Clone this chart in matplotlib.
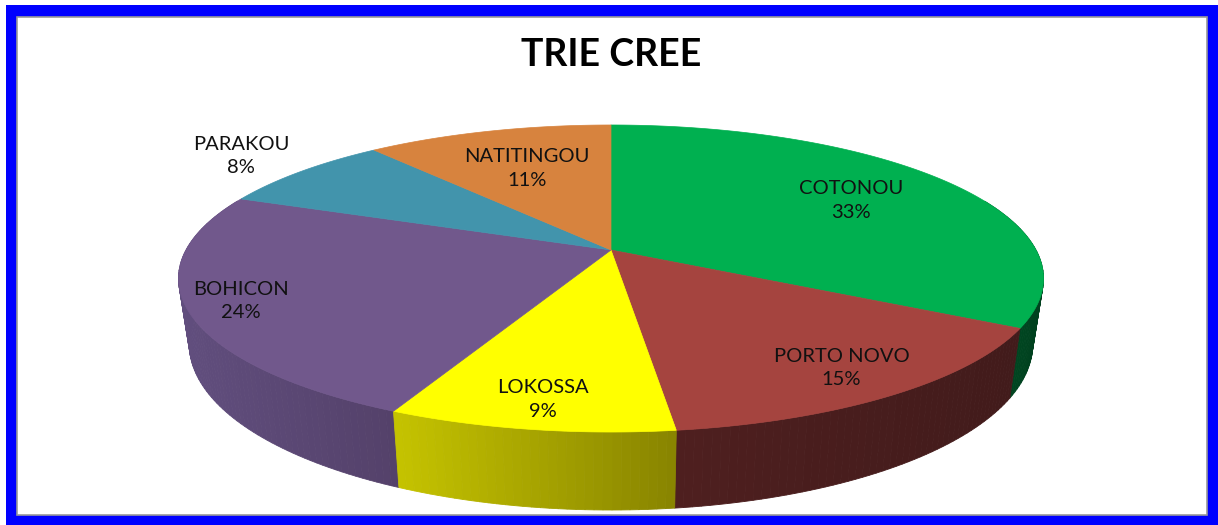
# coding=utf-8
import numpy as np
import matplotlib.pyplot as plt
from matplotlib.patches import Polygon, Rectangle

'''camembert 3D facon Excel'''

villes = ['COTONOU', 'PORTO NOVO', 'LOKOSSA', 'BOHICON', 'PARAKOU', 'NATITINGOU']
parts = [33, 15, 9, 24, 8, 11]
titre = 'TRIE CREE'

# couleurs du dessus et des cotes (clair a gauche, sombre a droite)
couleurs = ['#00B050', '#A5443F', '#FFFF00', '#71588C', '#4294AC', '#D7833E']
cote_g = ['#004E25', '#4E1F1F', '#C4C200', '#614E7E', '#2E6A7C', '#9A5D2C']
cote_d = ['#00401E', '#421B1B', '#888400', '#54416A', '#275B6B', '#844F25']
# distance du centre pour les etiquettes (en fraction du rayon)
pos_etiq = [0.70, 0.84, 0.86, 0.88, 1.22, 0.65]

# geometrie de la vue en perspective (pixels)
CX, CY, RX = 611, 250, 425
A, C = -101.8, 0.1857
EP = 63.5      # epaisseur
SHR = 0.975    # retrecissement du bas


def proj(u, v):
    den = 1 + C * v
    return CX + RX * u / den, (CY + A * v) / den


def proj_bas(u, v):
    x, y = proj(u, v)
    return CX + (x - CX) * SHR, y + EP / (1 + C * v)


def hex2rgb(h):
    return np.array([int(h[i:i + 2], 16) for i in (1, 3, 5)]) / 255.0


fig = plt.figure(figsize=(12.18, 5.25), dpi=100)
ax = fig.add_axes([0, 0, 1, 1])
ax.set_xlim(0, 1218)
ax.set_ylim(525, 0)
ax.axis('off')

# cadre bleu
ax.add_patch(Rectangle((6, 5), 1212, 520, facecolor='#0000FF', edgecolor='none', zorder=0))
ax.add_patch(Rectangle((17, 17), 1190, 498, facecolor='white', edgecolor='#999999', lw=1.2, zorder=1))

total = float(sum(parts))
cum = np.concatenate([[0], np.cumsum(parts)]) / total
angles = 90 - 360 * cum

# cotes
segs = []
for i in range(len(parts)):
    t0, t1 = angles[i], angles[i + 1]
    n = max(2, int(abs(t1 - t0))) + 1
    th = np.radians(np.linspace(t0, t1, n))
    front = [k for k in range(n - 1) if np.sin((th[k] + th[k + 1]) / 2) < 0.35]
    if not front:
        continue
    xs = [proj(np.cos(th[k]), np.sin(th[k]))[0] for k in front]
    xmin, xmax = min(xs), max(xs) + 1e-6
    cg, cd = hex2rgb(cote_g[i]), hex2rgb(cote_d[i])
    for k in front:
        a, b = th[k], th[k + 1]
        p1 = proj(np.cos(a), np.sin(a))
        p2 = proj(np.cos(b), np.sin(b))
        q2 = proj_bas(np.cos(b), np.sin(b))
        q1 = proj_bas(np.cos(a), np.sin(a))
        xm = (p1[0] + p2[0]) / 2
        f = np.clip((xm - xmin) / (xmax - xmin), 0, 1)
        col = cg * (1 - f) + cd * f
        segs.append(((p1[1] + p2[1]) / 2, [p1, p2, q2, q1], col))

segs.sort(key=lambda s: s[0])
for ym, pts, col in segs:
    ax.add_patch(Polygon(pts, closed=True, facecolor=col, edgecolor=col, lw=0.6, zorder=2))

# dessus
for i in range(len(parts)):
    t0, t1 = angles[i], angles[i + 1]
    n = max(2, int(abs(t1 - t0) * 2)) + 1
    th = np.radians(np.linspace(t0, t1, n))
    pts = [proj(0, 0)] + [proj(np.cos(t), np.sin(t)) for t in th]
    ax.add_patch(Polygon(pts, closed=True, facecolor=couleurs[i], edgecolor=couleurs[i],
                         lw=0.5, zorder=3))

# etiquettes
for i in range(len(parts)):
    mid = np.radians((angles[i] + angles[i + 1]) / 2)
    k = pos_etiq[i]
    x, y = proj(k * np.cos(mid), k * np.sin(mid))
    ax.text(x, y, '%s\n%d%%' % (villes[i], round(100 * parts[i] / total)),
            ha='center', va='center', fontsize=14.5, family='Lato',
            color='#111111', linespacing=1.45, zorder=5)

ax.text(CX, 55, titre, ha='center', va='center', fontsize=27, family='Lato',
        fontweight='bold', color='black', zorder=5)

fig.savefig('out.png', dpi=100)
